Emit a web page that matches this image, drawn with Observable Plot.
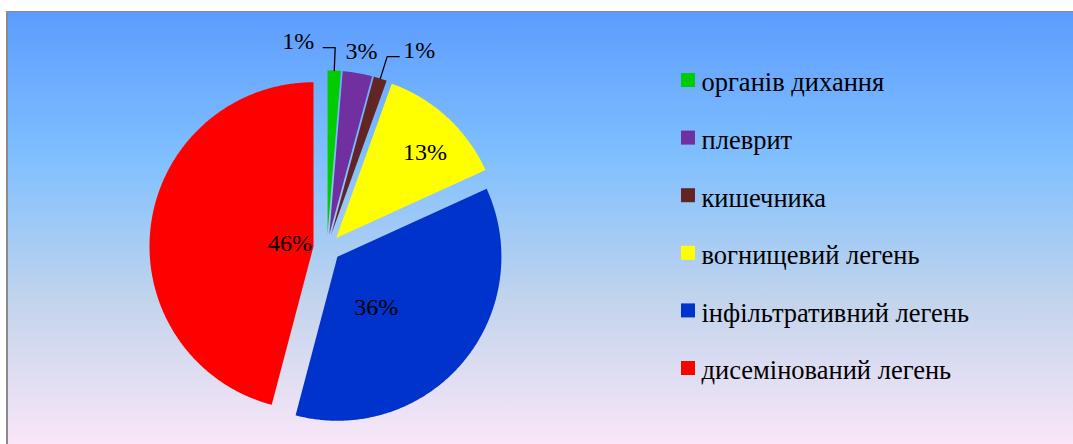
<!DOCTYPE html>
<html><head><meta charset="utf-8">
<script src="https://cdn.jsdelivr.net/npm/d3@7"></script>
<script src="https://cdn.jsdelivr.net/npm/@observablehq/plot@0.6"></script>
<style>
html,body{margin:0;padding:0;background:#fff;width:1073px;height:444px;overflow:hidden}
#frame{position:absolute;left:6px;top:11px;width:1067px;height:433px;border-top:1px solid #8a8a8a;border-left:2px solid #8a8a8a;box-sizing:border-box;
background:linear-gradient(to bottom,#5C9CFF 0%,#80C0FF 34%,#C2D4EC 67%,#FAE6F8 100%)}
#chart{position:absolute;left:0;top:0}
#chart svg, #chart text{font-family:"Liberation Serif","Times New Roman",serif !important}
</style></head><body>
<div id="frame"></div><div id="chart"></div>
<script>
// ---- data ----
const categories = ["органів дихання","плеврит","кишечника","вогнищевий легень","інфільтративний легень","дисемінований легень"];
const values = [1.3, 2.9, 1.3, 12.7, 35.9, 45.9];
const labels = ["1%","3%","1%","13%","36%","46%"];
const colors = ["#00CC00","#7030A0","#632523","#FFFF00","#0033CC","#FF0000"];

// ---- layout ----
const W = 1073, H = 444;
const cx = 326.5, cy = 247.5, R = 164, explode = 13.6;
const font = "Liberation Serif";
const fsLabel = 24, fsLegend = 26.5;
const labelMode = [
  {mode:"left"}, {mode:"center"}, {mode:"right"},
  {mode:"inside", r:0.75, da:3.5}, {mode:"inside", r:0.39, da:12.5}, {mode:"inside", r:0.145, da:-1}
];
const deg = Math.PI/180;
const total = d3.sum(values);
let acc = 0;
const slices = values.map((v,i)=>{
  const a0 = acc/total*2*Math.PI; acc += v;
  const a1 = acc/total*2*Math.PI; const am = (a0+a1)/2;
  return {i, a0, a1, am, ox: cx + explode*Math.sin(am), oy: cy - explode*Math.cos(am)};
});
const pt = (s, r, a) => ({x: s.ox + r*Math.sin(a), y: s.oy - r*Math.cos(a)});
const polys = slices.map(s=>{
  const pts = [pt(s,0,0)];
  const n = Math.max(4, Math.ceil((s.a1-s.a0)/(deg*0.5)));
  for (let k=0;k<=n;k++) pts.push(pt(s, R, s.a0+(s.a1-s.a0)*k/n));
  pts.push(pt(s,0,0));
  return pts;
});

const marks = [];
polys.forEach((p,i)=>marks.push(Plot.line(p,{x:"x",y:"y",fill:colors[i],stroke:"none",curve:"linear"})));

const textData = [];
const leaders = [];
slices.forEach((s,i)=>{
  const m = labelMode[i];
  if (m.mode === "inside") {
    const p = pt(s, R*m.r, s.am + m.da*deg);
    textData.push({x:p.x, y:p.y, t:labels[i], anchor:"middle"});
  } else {
    const e = pt(s, R+23, s.am);
    if (m.mode === "center") {
      textData.push({x:e.x, y:e.y+1, t:labels[i], anchor:"middle"});
    } else {
      const a = pt(s, R, s.am);
      const sign = m.mode === "left" ? -1 : 1;
      const h = {x: e.x + sign*12, y: e.y};
      leaders.push([a, e, h]);
      textData.push({x: h.x + sign*(m.mode === "left" ? 9 : 4), y: e.y-6, t: labels[i], anchor: m.mode === "left" ? "end" : "start"});
    }
  }
});
leaders.forEach(l=>marks.push(Plot.line(l,{x:"x",y:"y",stroke:"black",strokeWidth:1.3,curve:"linear"})));
["middle","start","end"].forEach(an=>{
  marks.push(Plot.text(textData.filter(d=>d.anchor===an),{x:"x",y:"y",text:"t",textAnchor:an,lineAnchor:"middle",fontSize:fsLabel,fontFamily:font,fill:"black"}));
});

// legend
const legend = categories.map((c,i)=>({c, color: colors[i], y: 80 + i*57.6}));
marks.push(Plot.rect(legend,{x1:681,x2:695,y1:d=>d.y-7,y2:d=>d.y+7,fill:"color"}));
marks.push(Plot.text(legend,{x:701,y:d=>d.y+2.5,text:"c",textAnchor:"start",lineAnchor:"middle",fontSize:fsLegend,fontFamily:font,fill:"black"}));

const chart = Plot.plot({
  width: W, height: H,
  margin: 0,
  x: {type:"linear", domain:[0,W], range:[0,W], axis:null},
  y: {type:"linear", domain:[0,H], range:[0,H], axis:null},
  color: {type:"identity"},
  style: {background:"transparent", overflow:"visible", fontFamily:font},
  marks
});
document.getElementById("chart").appendChild(chart);
</script>
</body></html>
